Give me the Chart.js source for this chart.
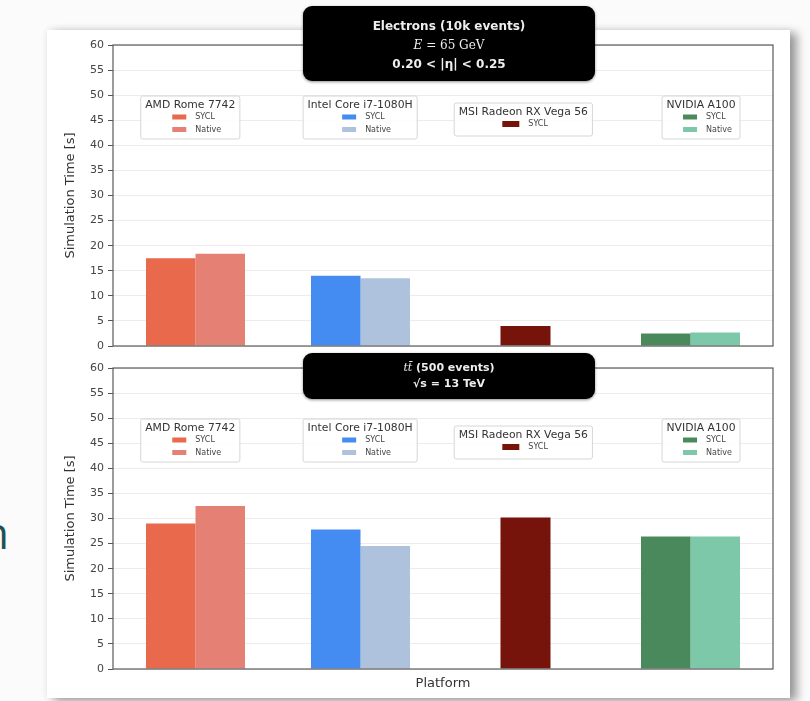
<!DOCTYPE html>
<html>
<head>
<meta charset="utf-8">
<script src="https://cdn.jsdelivr.net/npm/chart.js@4.4.0/dist/chart.umd.min.js"></script>
<style>
  html, body { margin: 0; padding: 0; width: 810px; height: 701px; overflow: hidden; background: #fbfbfb; font-family: "DejaVu Sans", sans-serif; }
  #panel { position: absolute; left: 47px; top: 30px; width: 743px; height: 668px; background: #fff;
           box-shadow: 7px 3px 9px rgba(0,0,0,0.38), 0 0 7px rgba(0,0,0,0.08); }
  .wrap { position: absolute; left: 47px; width: 743px; }
  #wrapTop { top: 30px; height: 330px; }
  #wrapBot { top: 355px; height: 343px; }
  .badge { position: absolute; left: 303px; width: 292px; background: #000; color: #eeeeee; border-radius: 9px;
           text-align: center; box-shadow: 0 1px 3px rgba(0,0,0,0.45); }
  #badgeTop { top: 6px; height: 75px; padding-top: 11px; box-sizing: border-box; line-height: 19px; font-size: 12px; font-weight: bold; }
  #badgeBot { top: 353px; height: 46px; padding-top: 7px; box-sizing: border-box; line-height: 16px; font-size: 11px; font-weight: bold; }
  .math { font-family: "DejaVu Serif", serif; font-weight: normal; }
  #slideText { position: absolute; left: -18px; top: 502px; font-family: "Open Sans", sans-serif; font-size: 44px; color: #1d5358; }
</style>
</head>
<body>
<div id="slideText">n</div>
<div id="panel"></div>
<div class="wrap" id="wrapTop"><canvas id="chartTop" width="743" height="330"></canvas></div>
<div class="wrap" id="wrapBot"><canvas id="chartBot" width="743" height="343"></canvas></div>
<div class="badge" id="badgeTop">
  <div>Electrons (10k events)</div>
  <div class="math"><i>E</i> = 65 GeV</div>
  <div>0.20 &lt; |η| &lt; 0.25</div>
</div>
<div class="badge" id="badgeBot">
  <div><span class="math"><i>tt̄</i></span> (500 events)</div>
  <div>√s = 13 TeV</div>
</div>
<script>
// Plateformes (catégories) et séries
const platforms = ["AMD Rome 7742", "Intel Core i7-1080H", "MSI Radeon RX Vega 56", "NVIDIA A100"];
const seriesNames = ["SYCL", "Native"];

// Temps de simulation [s]
const electronsSycl = [17.5, 14.0, 4.0, 2.5];
const electronsNative = [18.4, 13.5, null, 2.7];
const ttbarSycl = [29.0, 27.8, 30.2, 26.4];
const ttbarNative = [32.5, 24.5, null, 26.4];

// Couleurs par plateforme
const syclColors = ["#e8694b", "#458cf2", "#76130b", "#4a895b"];
const nativeColors = ["#e58174", "#aec2de", null, "#7cc8a8"];

const yMin = 0;
const yMax = 60;
const yStep = 5;

// Position des légendes (fraction de la zone du graphique)
const legendBoxes = [
  { left: 0.042, top: 51, rows: 2 },
  { left: 0.288, top: 51, rows: 2 },
  { left: 0.517, top: 58, rows: 1 },
  { right: 0.95, top: 51, rows: 2 }
];

// Cadre autour de la zone de tracé
const framePlugin = {
  id: "frame",
  afterDraw(chart) {
    const ctx = chart.ctx;
    const a = chart.chartArea;
    ctx.save();
    ctx.strokeStyle = "#5a5a5a";
    ctx.lineWidth = 1.2;
    ctx.strokeRect(a.left, a.top, a.right - a.left, a.bottom - a.top);
    ctx.restore();
  }
};

// Une légende par plateforme
const groupLegendPlugin = {
  id: "groupLegend",
  afterDraw(chart) {
    const ctx = chart.ctx;
    const a = chart.chartArea;
    const w = a.right - a.left;
    ctx.save();
    platforms.forEach((name, i) => {
      const box = legendBoxes[i];
      const entries = [];
      chart.data.datasets.forEach((ds, k) => {
        if (ds.data[i] !== null) {
          entries.push({ label: seriesNames[k], color: ds.backgroundColor[i] });
        }
      });
      ctx.font = "10.8px 'DejaVu Sans'";
      const titleW = ctx.measureText(name).width;
      const boxW = titleW + 9;
      const boxH = entries.length === 1 ? 33 : 43;
      let x = box.left !== undefined ? a.left + box.left * w : a.left + box.right * w - boxW;
      const y = a.top + box.top;

      ctx.fillStyle = "rgba(255,255,255,0.9)";
      ctx.strokeStyle = "#d6d6d6";
      ctx.lineWidth = 1;
      ctx.beginPath();
      ctx.roundRect(x, y, boxW, boxH, 2);
      ctx.fill();
      ctx.stroke();

      const cx = x + boxW / 2;
      ctx.fillStyle = "#333";
      ctx.textAlign = "center";
      ctx.textBaseline = "middle";
      ctx.fillText(name, cx, y + 9);

      ctx.font = "8px 'DejaVu Sans'";
      ctx.textAlign = "left";
      entries.forEach((e, r) => {
        const ry = y + 21 + r * 12.5;
        const sw = entries.length === 1 ? 17 : 14;
        const sh = entries.length === 1 ? 6 : 5;
        ctx.fillStyle = e.color;
        ctx.fillRect(cx - sw - 4, ry - sh / 2, sw, sh);
        ctx.fillStyle = "#444";
        ctx.fillText(e.label, cx + 5, ry);
      });
    });
    ctx.restore();
  }
};

function buildChart(id, sycl, native, showXTitle) {
  const ctx = document.getElementById(id).getContext("2d");
  return new Chart(ctx, {
    type: "bar",
    data: {
      labels: platforms,
      datasets: [
        { label: seriesNames[0], data: sycl, backgroundColor: syclColors },
        { label: seriesNames[1], data: native, backgroundColor: nativeColors }
      ]
    },
    options: {
      responsive: false,
      animation: false,
      devicePixelRatio: 1,
      skipNull: true,
      categoryPercentage: 0.6,
      barPercentage: 1,
      maxBarThickness: 50,
      layout: { padding: { top: showXTitle ? 13 : 15, right: 17, bottom: showXTitle ? 7 : 14, left: 0 } },
      plugins: {
        legend: { display: false },
        tooltip: { enabled: false }
      },
      scales: {
        x: {
          grid: { display: false },
          border: { display: false },
          ticks: { display: false },
          title: {
            display: showXTitle,
            text: "Platform",
            color: "#333",
            font: { family: "DejaVu Sans", size: 13 },
            padding: { top: 0, bottom: 0 }
          },
          afterFit: (scale) => { scale.height = showXTitle ? 22 : 0; }
        },
        y: {
          min: yMin,
          max: yMax,
          ticks: {
            stepSize: yStep,
            color: "#444",
            padding: 4,
            font: { family: "DejaVu Sans", size: 11 }
          },
          grid: { color: "#ececec", tickColor: "#555", tickLength: 5 },
          border: { display: false },
          title: {
            display: true,
            text: "Simulation Time [s]",
            color: "#333",
            font: { family: "DejaVu Sans", size: 13 },
            padding: { top: 16, bottom: 0 }
          },
          afterFit: (scale) => { scale.width = 66; }
        }
      }
    },
    plugins: [framePlugin, groupLegendPlugin]
  });
}

buildChart("chartTop", electronsSycl, electronsNative, false);
buildChart("chartBot", ttbarSycl, ttbarNative, true);
</script>
</body>
</html>
